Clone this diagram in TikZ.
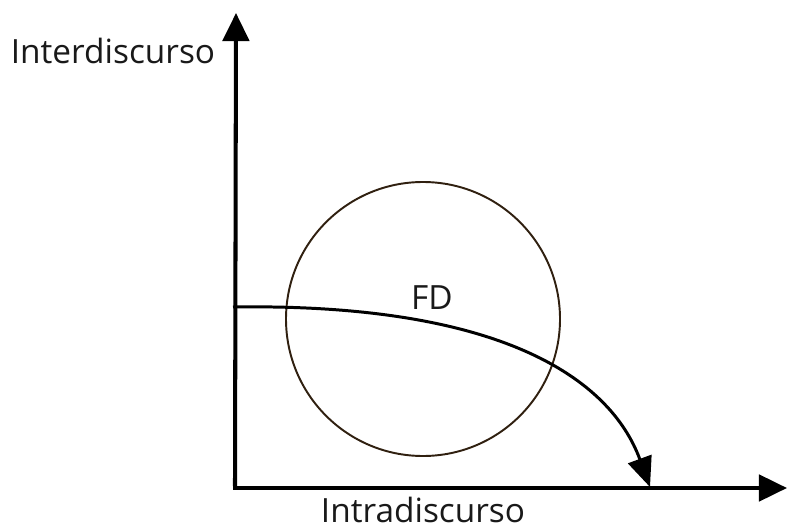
\documentclass[tikz,border=0pt]{standalone}
\usepackage{fontspec}
\setmainfont{Open Sans}
\usetikzlibrary{arrows.meta}

\begin{document}
\begin{tikzpicture}[x=0.02cm,y=-0.02cm,
  axis/.style={line width=2.3pt,-{Triangle[length=16pt,width=15pt]}},
  flow/.style={line width=1.7pt,-{Triangle[length=17pt,width=14pt]}},
  label/.style={font=\fontsize{19}{21}\selectfont,text=black!90,anchor=base,inner sep=0pt}]
\useasboundingbox (0,0) rectangle (787,530);

\coordinate (O) at (235,488);
\coordinate (ytip) at (236,13);
\coordinate (xtip) at (787,488);
\coordinate (fdstart) at (233,307);
\coordinate (fdend) at (650,487);

\draw[line width=1.1pt,color=black!75!brown] (423,319) circle (137);

\draw[axis] ([yshift=1.1pt]O) -- (ytip);
\draw[axis] ([xshift=-1.1pt]O) -- (xtip);
\draw[flow] (fdstart) .. controls (500,303) and (610,378) .. (fdend);

\node[label] (inter) at (113,64) {Interdiscurso};
\node[label] (intra) at (423,522) {Intradiscurso};
\node[label] (fd) at (432,309) {FD};
\end{tikzpicture}
\end{document}
